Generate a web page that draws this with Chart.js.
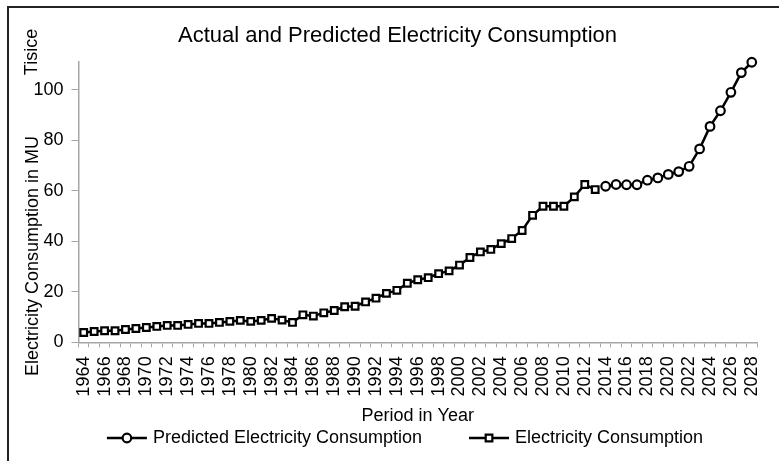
<!DOCTYPE html>
<html>
<head>
<meta charset="utf-8">
<script src="https://cdn.jsdelivr.net/npm/chart.js@4.4.1/dist/chart.umd.min.js"></script>
<style>
  html, body { margin: 0; padding: 0; background: #fff; }
  #wrap { width: 779px; height: 461px; position: relative; }
</style>
</head>
<body>
<div id="wrap"><canvas id="chart" width="779" height="461"></canvas></div>
<script>
// Years on the category axis
const years = [
  '1964','1965','1966','1967','1968','1969','1970','1971','1972','1973',
  '1974','1975','1976','1977','1978','1979','1980','1981','1982','1983',
  '1984','1985','1986','1987','1988','1989','1990','1991','1992','1993',
  '1994','1995','1996','1997','1998','1999','2000','2001','2002','2003',
  '2004','2005','2006','2007','2008','2009','2010','2011','2012','2013',
  '2014','2015','2016','2017','2018','2019','2020','2021','2022','2023',
  '2024','2025','2026','2027','2028'
];

// Recorded consumption, 1964-2013 (thousands of MU)
const actualConsumption = [
  3.9, 4.3, 4.6, 4.6, 5.1, 5.5, 5.9, 6.3, 6.7, 6.7,
  7.1, 7.5, 7.5, 7.9, 8.3, 8.7, 8.3, 8.7, 9.5, 8.8,
  7.9, 10.9, 10.4, 11.7, 12.6, 14.1, 14.3, 16.0, 17.5, 19.4,
  20.6, 23.4, 24.8, 25.6, 27.2, 28.3, 30.6, 33.6, 35.8, 36.8,
  39.1, 41.1, 44.3, 50.3, 53.9, 53.9, 53.9, 57.6, 62.5, 60.5
];

// Forecast, 2014-2028 (thousands of MU)
const predictedConsumption = [
  61.8, 62.5, 62.4, 62.4, 64.2, 65.1, 66.5, 67.6, 69.7, 76.6,
  85.5, 91.7, 99.0, 106.8, 110.9
];

const yTickValues = [0, 20, 40, 60, 80, 100];

const titleText = 'Actual and Predicted Electricity Consumption';
const xTitleText = 'Period in Year';
const yTitleText = 'Electricity Consumption in MU';
const unitText = 'Tisice';
const seriesNames = ['Predicted Electricity Consumption', 'Electricity Consumption'];

// Align both series to the full year list
const predictedStart = years.indexOf('2014');
const actualSeries = years.map((y, i) => i < actualConsumption.length ? actualConsumption[i] : null);
const predictedSeries = years.map((y, i) => i >= predictedStart ? predictedConsumption[i - predictedStart] : null);

const FONT = "'Liberation Sans', Arial, Helvetica, sans-serif";
const AXIS_GREY = '#a6a6a6';
const TEXT = '#000';

Chart.defaults.font.family = FONT;
Chart.defaults.color = TEXT;

function rotatedText(ctx, text, x, y) {
  ctx.save();
  ctx.font = '18px ' + FONT;
  ctx.fillStyle = TEXT;
  ctx.textAlign = 'center';
  ctx.textBaseline = 'middle';
  ctx.translate(x, y);
  ctx.rotate(-Math.PI / 2);
  ctx.fillText(text, 0, 0);
  ctx.restore();
}

// Outer frame, value-axis captions and the legend row
const decorations = {
  id: 'decorations',
  afterLayout(chart) {
    // nudge the title to sit over the plot
    if (chart.titleBlock) {
      chart.titleBlock.left += 14;
      chart.titleBlock.right += 14;
    }
  },
  beforeDraw(chart) {
    const ctx = chart.ctx;
    ctx.save();
    ctx.strokeStyle = '#222';
    ctx.lineWidth = 2;
    ctx.beginPath();
    ctx.moveTo(8, chart.height);
    ctx.lineTo(8, 7);
    ctx.lineTo(chart.width, 7);
    ctx.stroke();
    ctx.restore();
  },
  afterDraw(chart) {
    const ctx = chart.ctx;
    // display-unit caption and value-axis title
    rotatedText(ctx, unitText, 32, 52);
    rotatedText(ctx, yTitleText, 33, 256);

    // legend: line with marker, then the series name
    ctx.save();
    ctx.font = '18px ' + FONT;
    const symW = 40, gapText = 6, gapItem = 47;
    const items = chart.data.datasets.map(ds => ({ ds, w: ctx.measureText(ds.label).width }));
    const total = items.reduce((s, it) => s + symW + gapText + it.w, 0) + gapItem * (items.length - 1);
    let x = 405 - total / 2;
    const y = 438;
    items.forEach(({ ds, w }) => {
      ctx.strokeStyle = ds.borderColor;
      ctx.lineWidth = ds.borderWidth;
      ctx.beginPath();
      ctx.moveTo(x, y);
      ctx.lineTo(x + symW, y);
      ctx.stroke();
      ctx.fillStyle = ds.pointBackgroundColor;
      ctx.strokeStyle = ds.pointBorderColor;
      ctx.lineWidth = ds.pointBorderWidth;
      ctx.beginPath();
      if (ds.pointStyle === 'circle') {
        ctx.arc(x + symW / 2, y, ds.pointRadius, 0, Math.PI * 2);
      } else {
        const s = ds.pointRadius * Math.SQRT1_2;
        ctx.rect(x + symW / 2 - s, y - s, 2 * s, 2 * s);
      }
      ctx.fill();
      ctx.stroke();
      ctx.fillStyle = TEXT;
      ctx.textAlign = 'left';
      ctx.textBaseline = 'middle';
      ctx.fillText(ds.label, x + symW + gapText, y);
      x += symW + gapText + w + gapItem;
    });
    ctx.restore();
  }
};

new Chart(document.getElementById('chart'), {
  type: 'line',
  data: {
    labels: years,
    datasets: [
      {
        label: seriesNames[0],
        data: predictedSeries,
        borderColor: '#000',
        borderWidth: 2.5,
        pointStyle: 'circle',
        pointRadius: 4.3,
        pointBorderWidth: 2.2,
        pointBackgroundColor: '#fff',
        pointBorderColor: '#000',
        tension: 0,
        spanGaps: false,
        clip: false
      },
      {
        label: seriesNames[1],
        data: actualSeries,
        borderColor: '#000',
        borderWidth: 2.5,
        pointStyle: 'rect',
        pointRadius: 4.7,
        pointBorderWidth: 2.2,
        pointBackgroundColor: '#fff',
        pointBorderColor: '#000',
        tension: 0,
        spanGaps: false,
        clip: false
      }
    ]
  },
  options: {
    responsive: false,
    animation: false,
    devicePixelRatio: 1,
    layout: { padding: { top: 0, left: 10, right: 22, bottom: 34 } },
    plugins: {
      legend: { display: false },
      tooltip: { enabled: false },
      title: {
        display: true,
        text: titleText,
        color: TEXT,
        font: { size: 22, weight: 'normal', family: FONT },
        padding: { top: 23, bottom: 12.6 }
      }
    },
    scales: {
      x: {
        type: 'category',
        offset: true,
        grid: {
          display: true,
          drawOnChartArea: false,
          drawTicks: true,
          tickLength: 5,
          offset: true,
          color: AXIS_GREY,
          lineWidth: 1
        },
        border: { display: true, color: AXIS_GREY, width: 1.5 },
        ticks: {
          autoSkip: false,
          minRotation: 90,
          maxRotation: 90,
          padding: 9,
          color: TEXT,
          font: { size: 18 },
          callback: (v, i) => (i % 2 === 0 ? years[i] : '')
        },
        title: {
          display: true,
          text: xTitleText,
          color: TEXT,
          font: { size: 18 },
          padding: { top: 0, bottom: 0 }
        },
        afterFit(scale) {
          scale.paddingLeft = 0;
          scale.paddingRight = 0;
        }
      },
      y: {
        min: 0,
        max: 111,
        grid: {
          display: true,
          drawOnChartArea: false,
          drawTicks: true,
          tickLength: 7,
          color: AXIS_GREY
        },
        border: { display: true, color: AXIS_GREY, width: 1.5 },
        ticks: {
          stepSize: 20,
          padding: 8,
          color: TEXT,
          font: { size: 18 }
        },
        afterBuildTicks(scale) {
          scale.ticks = yTickValues.map(v => ({ value: v }));
        },
        title: { display: false },
        afterFit(scale) {
          scale.width = 68.5;
        }
      }
    }
  },
  plugins: [decorations]
});
</script>
</body>
</html>
